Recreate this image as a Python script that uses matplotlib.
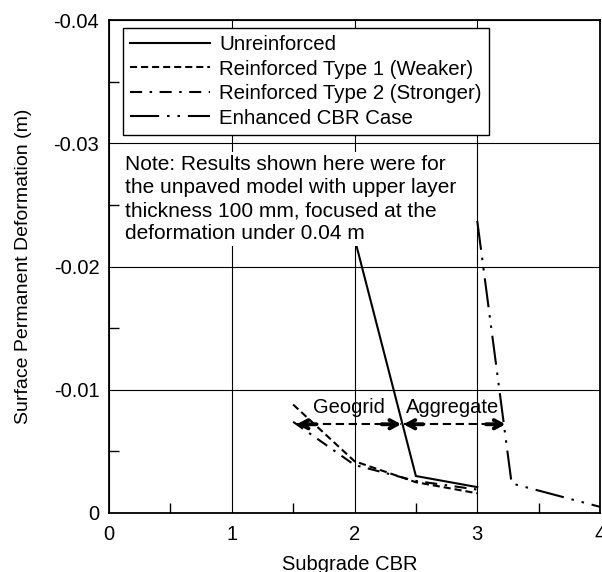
import matplotlib.pyplot as plt
import numpy as np

plt.rcParams['font.family'] = ['Liberation Sans', 'DejaVu Sans']
plt.rcParams['axes.unicode_minus'] = False

# data
unreinf_x = [2.0, 2.5, 3.0]
unreinf_y = [-0.0223, -0.0030, -0.0021]
type1_x = [1.5, 2.0, 2.5, 3.0]
type1_y = [-0.0088, -0.0042, -0.0025, -0.0016]
type2_x = [1.5, 2.0, 2.5, 3.0]
type2_y = [-0.0074, -0.0039, -0.0026, -0.0019]
enh_x = [3.0, 3.28, 4.0]
enh_y = [-0.0237, -0.0024, -0.0005]

arrow_y = -0.0072
geogrid_x = [1.53, 2.38]
aggregate_x = [2.40, 3.23]

x_ticks = [0, 1, 2, 3, 4]
y_ticks = [0, -0.01, -0.02, -0.03, -0.04]
y_tick_labels = ['0', '-0.01', '-0.02', '-0.03', '-0.04']

note = ("Note: Results shown here were for\n"
        "the unpaved model with upper layer\n"
        "thickness 100 mm, focused at the\n"
        "deformation under 0.04 m")

fig = plt.figure(figsize=(6.02, 5.72), dpi=100)
ax = fig.add_axes([109/602, 1 - 513/572, 491/602, 493/572])

ax.set_xlim(0, 4)
ax.set_ylim(0, -0.04)
ax.set_xticks(x_ticks)
ax.set_xticklabels([str(v) for v in x_ticks])
ax.set_yticks(y_ticks)
ax.set_yticklabels(y_tick_labels)
ax.set_xticks(np.arange(0.5, 4, 1.0), minor=True)
ax.set_yticks(np.arange(-0.005, -0.04, -0.01), minor=True)
ax.tick_params(which='both', direction='in', labelsize=14.5, width=1)
ax.tick_params(which='major', length=0)
ax.tick_params(which='minor', length=7)
ax.tick_params(axis='x', pad=9)
ax.tick_params(axis='y', pad=7)
ax.grid(True, which='major', color='black', lw=0.8, zorder=0)
for s in ax.spines.values():
    s.set_linewidth(1.3)

lw = 1.5
ax.plot(unreinf_x, unreinf_y, color='black', lw=lw, ls='-', label='Unreinforced', zorder=3)
ax.plot(type1_x, type1_y, color='black', lw=lw, ls=(0, (3.4, 1.9)),
        label='Reinforced Type 1 (Weaker)', zorder=3)
ax.plot(type2_x, type2_y, color='black', lw=lw, ls=(0, (5.8, 3.6, 1.2, 3.6)),
        label='Reinforced Type 2 (Stronger)', zorder=3)
ax.plot(enh_x, enh_y, color='black', lw=lw, ls=(0, (14, 3.8, 1.2, 3.8, 1.2, 3.8)),
        label='Enhanced CBR Case', zorder=3)

# double headed dashed arrows
for xs in (geogrid_x, aggregate_x):
    ax.plot(xs, [arrow_y, arrow_y], color='black', lw=lw, ls=(0, (4, 2.2)), zorder=4)
    ax.annotate('', xy=(xs[1], arrow_y), xytext=(-14, 0), textcoords='offset points',
                arrowprops=dict(arrowstyle='->,head_length=0.55,head_width=0.3',
                                color='black', lw=2.8, shrinkA=0, shrinkB=0), zorder=5)
    ax.annotate('', xy=(xs[0], arrow_y), xytext=(14, 0), textcoords='offset points',
                arrowprops=dict(arrowstyle='->,head_length=0.55,head_width=0.3',
                                color='black', lw=2.8, shrinkA=0, shrinkB=0), zorder=5)
ax.text(np.mean(geogrid_x), -0.0086, 'Geogrid', fontsize=14.5, ha='center', va='center')
ax.text(np.mean(aggregate_x) - 0.02, -0.0086, 'Aggregate', fontsize=14.5,
        ha='center', va='center')

ax.text(0.032, 0.726, note, transform=ax.transAxes, fontsize=15, ha='left', va='top',
        linespacing=1.27, zorder=6,
        bbox=dict(facecolor='white', edgecolor='none', pad=2))

leg = ax.legend(loc='upper left', bbox_to_anchor=(0.0285, 0.984), borderaxespad=0,
                fontsize=14.7, fancybox=False, edgecolor='black', framealpha=1,
                handlelength=3.9, handletextpad=0.45, borderpad=0.35, labelspacing=0.27)
leg.get_frame().set_linewidth(1.0)
leg.set_zorder(7)

ax.set_xlabel('Subgrade CBR', fontsize=14.5)
ax.xaxis.set_label_coords(0.49, -0.086)
ax.set_ylabel('Surface Permanent Deformation (m)', fontsize=14)
ax.yaxis.set_label_coords(-0.156, 0.5)

fig.savefig('out.png', dpi=100)
